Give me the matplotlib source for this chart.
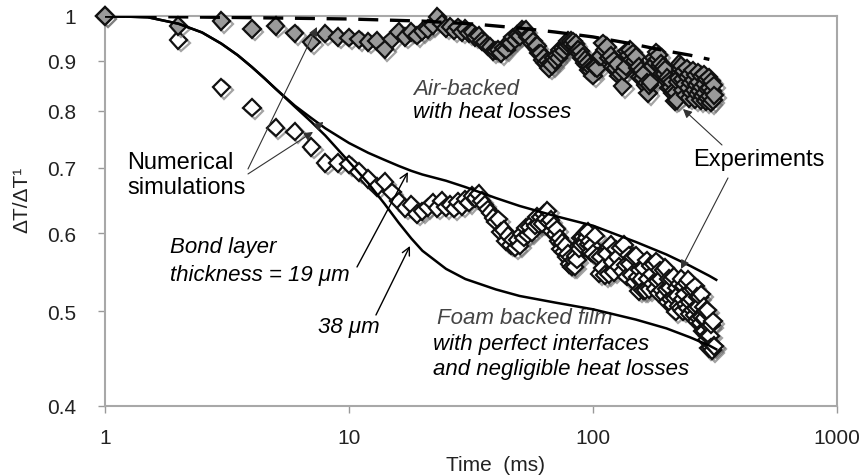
import numpy as np
import matplotlib
matplotlib.use("Agg")
from matplotlib import pyplot as plt
from matplotlib import patheffects as pe

plt.rcParams['font.family'] = ['Liberation Sans', 'DejaVu Sans']

# sampling times (ms)
time = np.concatenate([np.arange(1, 101), np.arange(102, 315, 2)])

# experiment: air-backed film
air = [1.0, 0.977, 0.988, 0.97, 0.977, 0.96, 0.94, 0.959, 0.952, 0.95,
       0.947, 0.941, 0.943, 0.925, 0.947, 0.963, 0.952, 0.963, 0.955, 0.965,
       0.97, 0.978, 0.998, 0.982, 0.972, 0.975, 0.966, 0.974, 0.963, 0.97,
       0.96, 0.962, 0.952, 0.955, 0.943, 0.94, 0.932, 0.93, 0.92, 0.922,
       0.924, 0.916, 0.927, 0.924, 0.939, 0.938, 0.951, 0.946, 0.957, 0.954,
       0.968, 0.966, 0.968, 0.952, 0.952, 0.938, 0.942, 0.93, 0.932, 0.916,
       0.916, 0.902, 0.907, 0.896, 0.899, 0.885, 0.895, 0.891, 0.907, 0.901,
       0.911, 0.907, 0.923, 0.917, 0.927, 0.922, 0.935, 0.932, 0.943, 0.935,
       0.943, 0.936, 0.942, 0.932, 0.936, 0.922, 0.924, 0.916, 0.92, 0.906,
       0.908, 0.896, 0.902, 0.892, 0.896, 0.881, 0.888, 0.879, 0.884, 0.869,
       # 102..314, every 2 ms
       0.887, 0.884, 0.909, 0.91, 0.938, 0.923, 0.93, 0.906, 0.91, 0.888,
       0.901, 0.885, 0.893, 0.869, 0.872, 0.848, 0.878, 0.888, 0.92, 0.912,
       0.924, 0.902, 0.916, 0.9, 0.908, 0.884, 0.888, 0.866, 0.88, 0.864,
       0.873, 0.85, 0.855, 0.834, 0.85, 0.856, 0.89, 0.889, 0.907, 0.896,
       0.918, 0.903, 0.912, 0.889, 0.894, 0.873, 0.888, 0.873, 0.882, 0.86,
       0.865, 0.845, 0.86, 0.846, 0.856, 0.834, 0.839, 0.819, 0.835, 0.821,
       0.857, 0.864, 0.894, 0.883,
       0.89, 0.862, 0.84, 0.878, 0.852, 0.83, 0.884, 0.866, 0.845, 0.825,
       0.872, 0.855, 0.835, 0.88, 0.86, 0.84, 0.822, 0.87, 0.85, 0.832,
       0.876, 0.856, 0.838, 0.82, 0.868, 0.846, 0.828, 0.872, 0.852, 0.834,
       0.818, 0.862, 0.842, 0.824, 0.866, 0.845, 0.828, 0.816, 0.858, 0.838,
       0.82, 0.85, 0.83]

# experiment: foam-backed film
foam = [1.0, 0.945, 0.846, 0.806, 0.769, 0.762, 0.735, 0.708, 0.708, 0.706,
        0.693, 0.682, 0.669, 0.677, 0.661, 0.647, 0.637, 0.642, 0.628, 0.632,
        0.638, 0.645, 0.637, 0.648, 0.638, 0.642, 0.636, 0.646, 0.64, 0.65,
        0.645, 0.655, 0.652, 0.658, 0.648, 0.642, 0.635, 0.63, 0.622, 0.617,
        0.62, 0.602, 0.605, 0.589, 0.597, 0.584, 0.591, 0.58, 0.591, 0.583,
        0.599, 0.594, 0.608, 0.598, 0.609, 0.601, 0.616, 0.611, 0.624, 0.613,
        0.623, 0.614, 0.628, 0.621, 0.633, 0.616, 0.619, 0.603, 0.611, 0.599,
        0.606, 0.589, 0.593, 0.578, 0.587, 0.575, 0.583, 0.567, 0.572, 0.558,
        0.567, 0.555, 0.563, 0.555, 0.569, 0.564, 0.582, 0.579, 0.594, 0.584,
        0.595, 0.586, 0.601, 0.594, 0.602, 0.585, 0.589, 0.574, 0.583, 0.572,
        # 102..314, every 2 ms
        0.597, 0.568, 0.546, 0.568, 0.553, 0.544, 0.572, 0.545, 0.584, 0.561,
        0.548, 0.578, 0.567, 0.555, 0.58, 0.549, 0.584, 0.557, 0.542, 0.57,
        0.558, 0.544, 0.568, 0.535, 0.569, 0.541, 0.524, 0.551, 0.539, 0.525,
        0.553, 0.525, 0.563, 0.539, 0.526, 0.556, 0.545, 0.533, 0.558, 0.527,
        0.562, 0.536, 0.521, 0.55, 0.539, 0.525, 0.55, 0.519, 0.553, 0.526,
        0.511, 0.539, 0.528, 0.514, 0.539, 0.507, 0.542, 0.515, 0.499, 0.528,
        0.518, 0.506, 0.533, 0.503, 0.539, 0.514, 0.5, 0.53, 0.52, 0.508,
        0.534, 0.503, 0.538, 0.511, 0.496, 0.525, 0.514, 0.501, 0.526, 0.495,
        0.53, 0.503, 0.488, 0.517, 0.505, 0.492, 0.517, 0.486, 0.52, 0.493,
        0.477, 0.505, 0.492, 0.477, 0.5, 0.467, 0.501, 0.472, 0.458, 0.483,
        0.472, 0.459, 0.484, 0.456, 0.488, 0.461, 0.46]

# numerical simulations
sim_t = [1, 1.5, 2, 2.5, 3, 3.5, 4, 4.5, 5, 6, 7, 8, 10, 12, 14, 16, 18, 20,
         25, 30, 40, 50, 70, 100, 150, 200, 250, 300, 320]
bond19 = [1.0, 0.997, 0.982, 0.962, 0.937, 0.912, 0.887, 0.864, 0.843, 0.81,
          0.787, 0.768, 0.742, 0.725, 0.713, 0.703, 0.695, 0.689, 0.679, 0.669,
          0.652, 0.64, 0.625, 0.611, 0.588, 0.571, 0.556, 0.543, 0.538]
bond38 = [1.0, 0.997, 0.982, 0.962, 0.937, 0.912, 0.887, 0.864, 0.843, 0.808,
          0.78, 0.755, 0.71, 0.675, 0.643, 0.615, 0.593, 0.576, 0.552, 0.539,
          0.526, 0.518, 0.51, 0.502, 0.49, 0.48, 0.47, 0.461, 0.457]
air_t = [1, 4, 10, 20, 33, 50, 70, 100, 140, 200, 250, 300]
air_sim = [1.0, 0.996, 0.993, 0.988, 0.981, 0.972, 0.963, 0.952, 0.938, 0.921, 0.912, 0.903]

fig = plt.figure(figsize=(8.66, 4.77), dpi=100)
ax = fig.add_axes([0.1212, 0.1468, 0.8453, 0.8176])

shadow = [pe.SimpleLineShadow(offset=(2, -2), shadow_color='#666666', alpha=0.6), pe.Normal()]

ax.plot(time, foam, 'D', ms=8.8, mfc='white', mec='#111111', mew=1.6, zorder=2,
        path_effects=shadow, clip_on=False)
ax.plot(time, air, 'D', ms=8.8, mfc='#9a9a9a', mec='#111111', mew=1.6, zorder=3,
        path_effects=shadow, clip_on=False)

ax.plot(sim_t, bond19, color='black', lw=1.8, zorder=4)
ax.plot(sim_t, bond38, color='black', lw=1.8, zorder=4)
ax.plot(air_t, air_sim, color='black', lw=2.4, dashes=(6, 3.5), zorder=5)

ax.set_xscale('log')
ax.set_yscale('log')
ax.set_xlim(1, 1000)
ax.set_ylim(0.4, 1)
ax.set_xticks([1, 10, 100, 1000])
ax.set_xticklabels(['1', '10', '100', '1000'])
ax.set_yticks([0.4, 0.5, 0.6, 0.7, 0.8, 0.9, 1])
ax.set_yticklabels(['0.4', '0.5', '0.6', '0.7', '0.8', '0.9', '1'])
ax.minorticks_off()
ax.tick_params(axis='both', which='both', direction='out', length=5, width=1,
               color='#999999', labelsize=15, labelcolor='#222222')
ax.tick_params(axis='x', pad=11)
ax.tick_params(axis='y', pad=16)
for s in ax.spines.values():
    s.set_color('#a8a8a8')
    s.set_linewidth(1.5)

ax.set_ylabel('ΔT/ΔT¹', fontsize=15, color='#222222')
ax.yaxis.set_label_coords(-0.10, 0.53)
ax.set_xlabel('Time  (ms)', fontsize=15, color='#222222')
ax.xaxis.set_label_coords(0.533, -0.125)

# labels (axes fraction)
ax.text(0.030, 0.626, 'Numerical', transform=ax.transAxes, fontsize=17, va='center')
ax.text(0.030, 0.562, 'simulations', transform=ax.transAxes, fontsize=17, va='center')
ax.text(0.803, 0.633, 'Experiments', transform=ax.transAxes, fontsize=17, va='center')
ax.text(0.421, 0.813, 'Air-backed', transform=ax.transAxes, fontsize=16,
        style='italic', color='#444444', va='center')
ax.text(0.421, 0.756, 'with heat losses', transform=ax.transAxes, fontsize=16,
        style='italic', va='center')
ax.text(0.089, 0.408, 'Bond layer', transform=ax.transAxes, fontsize=16,
        style='italic', va='center')
ax.text(0.089, 0.338, 'thickness = 19 μm', transform=ax.transAxes, fontsize=16,
        style='italic', va='center')
ax.text(0.291, 0.203, '38 μm', transform=ax.transAxes, fontsize=16,
        style='italic', va='center')
ax.text(0.454, 0.228, 'Foam backed film', transform=ax.transAxes, fontsize=16,
        style='italic', color='#444444', va='center')
ax.text(0.448, 0.159, 'with perfect interfaces', transform=ax.transAxes, fontsize=16,
        style='italic', va='center')
ax.text(0.448, 0.095, 'and negligible heat losses', transform=ax.transAxes, fontsize=16,
        style='italic', va='center')

gray_arrow = dict(arrowstyle='-|>', color='#333333', lw=0.8, mutation_scale=13,
                  shrinkA=0, shrinkB=0)
black_arrow = dict(arrowstyle='->', color='black', lw=1.0, mutation_scale=14,
                   shrinkA=0, shrinkB=0)
ax.annotate('', xy=(0.2896, 0.9718), xytext=(0.1954, 0.6077),
            xycoords='axes fraction', arrowprops=gray_arrow, zorder=6)
ax.annotate('', xy=(0.2842, 0.7026), xytext=(0.1954, 0.5949),
            xycoords='axes fraction', arrowprops=gray_arrow, zorder=6)
ax.annotate('', xy=(0.2985, 0.7282), xytext=(0.2930, 0.7205),
            xycoords='axes fraction', arrowprops=gray_arrow, zorder=6)
ax.annotate('', xy=(0.7896, 0.7615), xytext=(0.8429, 0.6692),
            xycoords='axes fraction', arrowprops=gray_arrow, zorder=6)
ax.annotate('', xy=(0.7869, 0.3513), xytext=(0.8511, 0.5846),
            xycoords='axes fraction', arrowprops=gray_arrow, zorder=6)
ax.annotate('', xy=(0.4139, 0.600), xytext=(0.3443, 0.3564),
            xycoords='axes fraction', arrowprops=black_arrow, zorder=6)
ax.annotate('', xy=(0.4167, 0.4103), xytext=(0.3702, 0.2333),
            xycoords='axes fraction', arrowprops=black_arrow, zorder=6)

fig.savefig('out.png', dpi=100)
